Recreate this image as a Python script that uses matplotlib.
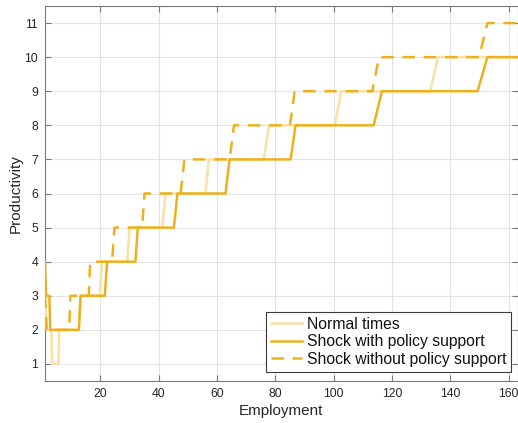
import matplotlib
matplotlib.use("Agg")
import matplotlib.pyplot as plt

# Normal times (corner points)
normal_x = [1, 1.6, 3.2, 3.4, 5.6, 5.9, 12.6, 13.2, 19.8, 20.5, 29.2, 30.0, 41.2, 42.3,
            56.0, 57.2, 76.0, 77.8, 100.4, 102.5, 133.0, 135.8, 163]
normal_y = [3, 2, 2, 1, 1, 2, 2, 3, 3, 4, 4, 5, 5, 6, 6, 7, 7, 8, 8, 9, 9, 10, 10]

# Shock with policy support
support_x = [1, 1.4, 2.5, 2.8, 12.6, 13.2, 21.5, 22.3, 32.0, 32.8, 45.2, 46.4, 62.9, 64.3,
             85.2, 86.9, 113.7, 116.5, 149.3, 152.7, 163]
support_y = [4, 3, 3, 2, 2, 3, 3, 4, 4, 5, 5, 6, 6, 7, 7, 8, 8, 9, 9, 10, 10]

# Shock without policy support
nosupport_x = [1, 1.6, 9.3, 9.7, 16.0, 16.5, 24.0, 24.8, 34.3, 35.1, 47.5, 48.8, 64.3, 65.8,
               85.0, 86.6, 113.2, 115.5, 149.8, 152.7, 163]
nosupport_y = [3, 2, 2, 3, 3, 4, 4, 5, 5, 6, 6, 7, 7, 8, 8, 9, 9, 10, 10, 11, 11]

labels = ["Normal times", "Shock with policy support", "Shock without policy support"]
x_ticks = [20, 40, 60, 80, 100, 120, 140, 160]
y_ticks = [1, 2, 3, 4, 5, 6, 7, 8, 9, 10, 11]

plt.rcParams['font.family'] = ['Liberation Sans', 'DejaVu Sans']

fig = plt.figure(figsize=(5.18, 4.23), dpi=100)
ax = fig.add_axes([45/518, 42/423, (517.5-45)/518, (381-6)/423])

orange = '#EDB120'
light = '#F8E0A6'
lw = 1.8

ax.plot(normal_x, normal_y, color=light, lw=lw, label=labels[0], zorder=3)
ax.plot(support_x, support_y, color=orange, lw=lw, label=labels[1], zorder=4)
ax.plot(nosupport_x, nosupport_y, color=orange, lw=lw, ls=(0, (5, 3.5)), label=labels[2], zorder=5)

ax.set_xlim(1, 163)
ax.set_ylim(0.5, 11.5)
ax.set_xticks(x_ticks)
ax.set_yticks(y_ticks)
ax.grid(True, color='#e4e4e4', lw=0.8, zorder=0)
ax.set_axisbelow(True)

for s in ax.spines.values():
    s.set_color('#7a7a7a')
    s.set_linewidth(0.8)
ax.tick_params(direction='in', length=4, width=0.8, color='#7a7a7a',
               top=True, right=True, labelsize=8.8, labelcolor='#262626', pad=5)

ax.set_xlabel("Employment", fontsize=11, color='#262626', labelpad=3)
ax.set_ylabel("Productivity", fontsize=11, color='#262626', labelpad=1)

leg = ax.legend(loc='lower right', bbox_to_anchor=((511-45)/472.5, (381-371.7)/375),
                fontsize=11.3, frameon=True, fancybox=False,
                edgecolor='#3a3a3a', framealpha=1, handlelength=2.0,
                borderaxespad=0, borderpad=0.3, labelspacing=0.17, handletextpad=0.3)
leg.get_frame().set_linewidth(0.8)
for t in leg.get_texts():
    t.set_color('#111111')

fig.savefig("out.png", dpi=100)
